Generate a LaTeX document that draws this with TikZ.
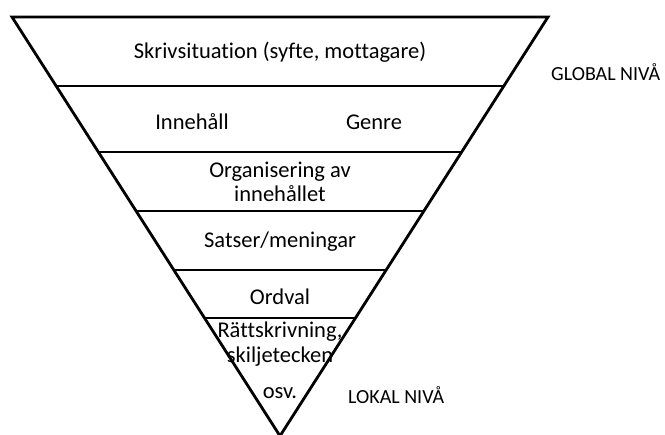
\documentclass[tikz,border=0pt]{standalone}
\usepackage{fontspec}
\setmainfont[Ligatures=NoCommon]{Carlito}
\usetikzlibrary{calc}
\begin{document}
\begin{tikzpicture}[x=1pt,y=-1pt,
  lbl/.style={font=\fontsize{22.5}{24.5}\selectfont, inner sep=0pt, align=center},
  side/.style={font=\fontsize{20}{24}\selectfont, inner sep=0pt, anchor=west},
  edge/.style={line width=2.8pt, line join=miter}]
\useasboundingbox (0,0) rectangle (665,435);
\coordinate (tl) at (12,17);
\coordinate (tr) at (548,17);
\coordinate (ap) at (280,436);
\draw[edge] (tl) -- (tr) -- (ap) -- cycle;
\foreach \y in {86,152,211,270,318}{
  \draw[edge] ($(tl)!{(\y-17)/419}!(ap)$) -- ($(tr)!{(\y-17)/419}!(ap)$);
}
\node[lbl] (s1) at (280,52) {Skrivsituation (syfte, mottagare)};
\node[lbl] (s2a) at (192,122) {Innehåll};
\node[lbl] (s2b) at (374,122) {Genre};
\node[lbl] (s3) at (280,182) {Organisering av\\innehållet};
\node[lbl] (s4) at (280,242) {Satser/meningar};
\node[lbl] (s5) at (280,297) {Ordval};
\node[lbl] (s6) at (280,344) {Rättskrivning,\\skiljetecken};
\node[lbl] (s7) at (280,393) {osv.};
\node[side] (g) at (551,72) {GLOBAL NIVÅ};
\node[side] (l) at (348,395) {LOKAL NIVÅ};
\end{tikzpicture}
\end{document}
